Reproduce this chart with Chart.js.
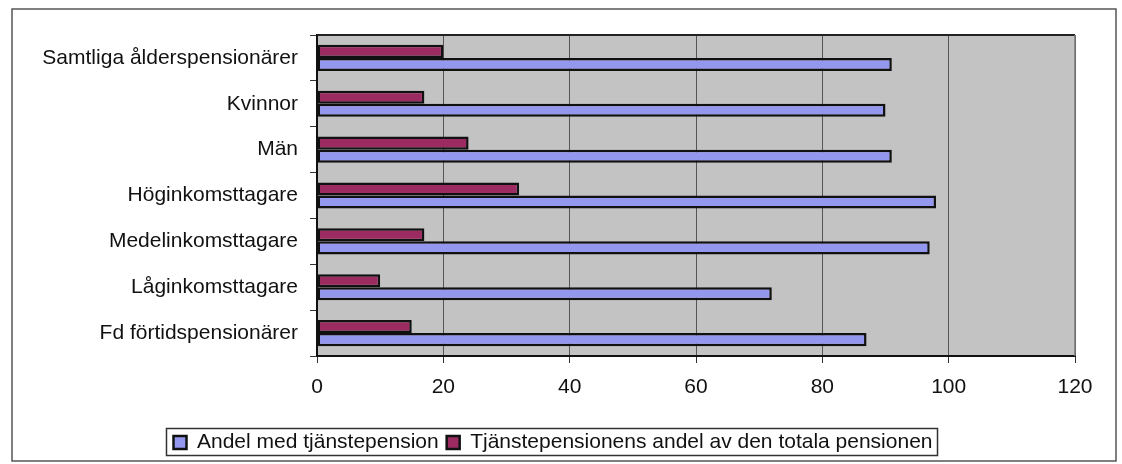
<!DOCTYPE html>
<html>
<head>
<meta charset="utf-8">
<script src="https://cdn.jsdelivr.net/npm/chart.js"></script>
<style>
  html, body { margin: 0; padding: 0; background: #fff; }
  canvas { display: block; }
</style>
</head>
<body>
<canvas id="mychart" width="1122" height="464"></canvas>
<script>
// Data for the chart
const categories = [
    'Samtliga ålderspensionärer',
    'Kvinnor',
    'Män',
    'Höginkomsttagare',
    'Medelinkomsttagare',
    'Låginkomsttagare',
    'Fd förtidspensionärer'
];
const andelMed = [91, 90, 91, 98, 97, 72, 87];
const andelAvTotal = [20, 17, 24, 32, 17, 10, 15];
const xTicks = [0, 20, 40, 60, 80, 100, 120];

Chart.defaults.font.family = '"Liberation Sans", Arial, sans-serif';
Chart.defaults.color = '#111';

// gray plot background + outer frame
const framePlugin = {
    id: 'frame',
    beforeDraw(chart) {
        const ctx = chart.ctx;
        const a = chart.chartArea;
        ctx.save();
        ctx.fillStyle = '#fff';
        ctx.fillRect(0, 0, chart.width, chart.height);
        ctx.strokeStyle = '#555';
        ctx.lineWidth = 1.5;
        ctx.strokeRect(12, 9, 1104, 452);
        ctx.fillStyle = '#c3c3c3';
        ctx.fillRect(a.left, a.top, a.right - a.left, a.bottom - a.top);
        ctx.restore();
    },
    afterDraw(chart) {
        const ctx = chart.ctx;
        const a = chart.chartArea;
        ctx.save();
        // top and right edge of the plot
        ctx.strokeStyle = '#222';
        ctx.lineWidth = 2;
        ctx.beginPath();
        ctx.moveTo(a.left, a.top);
        ctx.lineTo(a.right, a.top);
        ctx.stroke();
        ctx.strokeStyle = '#777';
        ctx.lineWidth = 1.5;
        ctx.beginPath();
        ctx.moveTo(a.right, a.top);
        ctx.lineTo(a.right, a.bottom);
        ctx.stroke();
        // box round the legend
        const boxes = chart.legend.legendHitBoxes;
        if (boxes.length) {
            const l = Math.min(...boxes.map(b => b.left));
            const r = Math.max(...boxes.map(b => b.left + b.width));
            const t = Math.min(...boxes.map(b => b.top));
            const h = Math.max(...boxes.map(b => b.height));
            ctx.strokeStyle = '#333';
            ctx.lineWidth = 1.5;
            ctx.strokeRect(l - 7, t + h / 2 - 14, r - l + 12, 27);
        }
        ctx.restore();
    }
};

const data = {
    labels: categories,
    datasets: [{
        label: 'Tjänstepensionens andel av den totala pensionen',
        data: andelAvTotal,
        backgroundColor: '#9c2b62',
        borderColor: '#111',
        borderWidth: 2.5,
        borderSkipped: false,
        categoryPercentage: 0.57,
        barPercentage: 1.0
    }, {
        label: 'Andel med tjänstepension',
        data: andelMed,
        backgroundColor: '#9497ee',
        borderColor: '#111',
        borderWidth: 2.5,
        borderSkipped: false,
        categoryPercentage: 0.57,
        barPercentage: 1.0
    }]
};

const config = {
    type: 'bar',
    data,
    options: {
        indexAxis: 'y',
        responsive: false,
        animation: false,
        layout: {
            padding: { top: 35, right: 47, bottom: 1, left: 31 }
        },
        scales: {
            x: {
                min: 0,
                max: 120,
                afterBuildTicks(scale) {
                    scale.ticks = xTicks.map(v => ({ value: v }));
                },
                afterFit(scale) { scale.height = 68; },
                grid: {
                    color: '#555',
                    lineWidth: 1,
                    tickLength: 7,
                    tickColor: '#333'
                },
                border: { display: true, color: '#111', width: 2 },
                ticks: {
                    font: { size: 21 },
                    padding: 12,
                    color: '#111'
                }
            },
            y: {
                afterFit(scale) { scale.width = 286; },
                grid: {
                    drawOnChartArea: false,
                    offset: true,
                    tickLength: 7,
                    tickColor: '#333'
                },
                border: { display: true, color: '#111', width: 2 },
                ticks: {
                    font: { size: 21 },
                    padding: 12,
                    color: '#111'
                }
            }
        },
        plugins: {
            legend: {
                position: 'bottom',
                reverse: true,
                labels: {
                    font: { size: 21 },
                    boxWidth: 13,
                    boxHeight: 13,
                    padding: 8,
                    color: '#111'
                }
            },
            tooltip: { enabled: false }
        }
    },
    plugins: [framePlugin]
};

let myChart = new Chart(document.getElementById('mychart'), config);
</script>
</body>
</html>
